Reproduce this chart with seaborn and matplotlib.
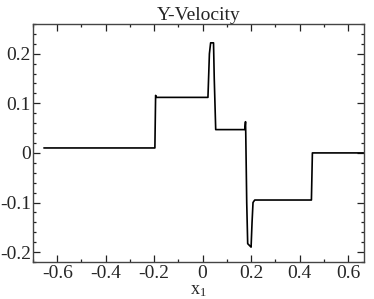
import matplotlib
matplotlib.use("Agg")
import matplotlib.pyplot as plt
import seaborn as sns
import pandas as pd
from matplotlib.ticker import MultipleLocator, FuncFormatter

# Data
x1 = [-0.655, -0.197, -0.194, -0.19, 0.022, 0.028, 0.033, 0.045, 0.048, 0.054,
      0.174, 0.177, 0.178, 0.182, 0.186, 0.19, 0.196, 0.2, 0.204, 0.208, 0.215,
      0.449, 0.453, 0.665]
vy = [0.01, 0.01, 0.116, 0.112, 0.112, 0.2, 0.222, 0.222, 0.15, 0.047,
      0.047, 0.063, 0.04, -0.1, -0.183, -0.185, -0.188, -0.19, -0.14, -0.1, -0.095,
      -0.095, 0.0, 0.0]
x_ticks = [-0.6, -0.4, -0.2, 0, 0.2, 0.4, 0.6]
y_ticks = [-0.2, -0.1, 0, 0.1, 0.2]
title = "Y-Velocity"

sns.set_style("ticks")
plt.rcParams["font.family"] = ["Liberation Serif", "DejaVu Serif"]
plt.rcParams["mathtext.fontset"] = "stix"

df = pd.DataFrame({"x1": x1, "vy": vy})

fig = plt.figure(figsize=(3.74, 2.99), dpi=100)
ax = fig.add_axes([33/374, 1-262/299, (364-33)/374, (262-24)/299])
sns.lineplot(data=df, x="x1", y="vy", ax=ax, color="black", linewidth=1.2,
             estimator=None, sort=False)

ax.set_xlim(-0.7, 0.666)
ax.set_ylim(-0.22, 0.26)
ax.set_xticks(x_ticks)
ax.set_yticks(y_ticks)
ax.xaxis.set_minor_locator(MultipleLocator(0.1))
ax.yaxis.set_minor_locator(MultipleLocator(0.02))

def fmt(v, pos):
    if abs(v) < 1e-9:
        return "0"
    s = ("%g" % v)
    return s.replace("\u2212", "-")
ax.xaxis.set_major_formatter(FuncFormatter(fmt))
ax.yaxis.set_major_formatter(FuncFormatter(fmt))

for sp in ax.spines.values():
    sp.set_visible(True)
    sp.set_color("#444444")
    sp.set_linewidth(1.0)

ax.tick_params(which="both", direction="in", top=True, right=True,
               color="#222222", labelsize=14, width=0.9)
ax.tick_params(which="major", length=5, pad=1.5)
ax.tick_params(which="minor", length=2.5)
ax.tick_params(axis="x", which="major", pad=2)

ax.set_title(title, fontsize=14, pad=2)
ax.set_xlabel(r"x$_\mathregular{1}$", fontsize=13, labelpad=0)
ax.set_ylabel("")

fig.savefig("out.png", dpi=100)
